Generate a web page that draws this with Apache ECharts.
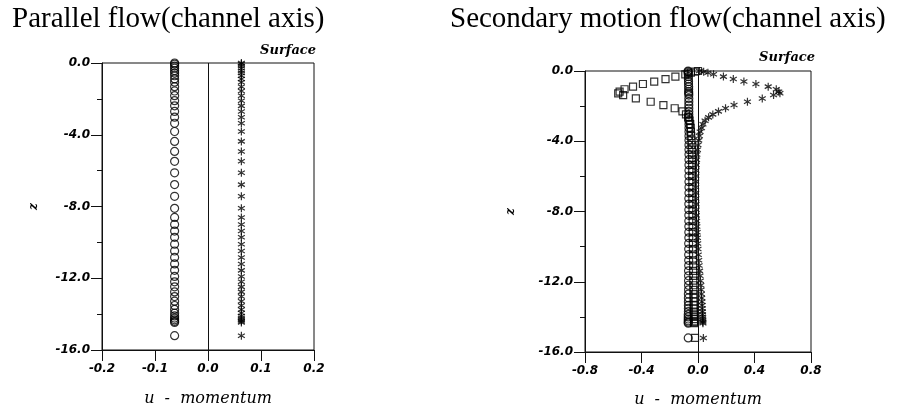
<!DOCTYPE html>
<html>
<head>
<meta charset="utf-8">
<script src="https://cdn.jsdelivr.net/npm/echarts@6/dist/echarts.min.js"></script>
<style>
html, body { margin: 0; padding: 0; background: #fff; }
#chart { width: 898px; height: 408px; }
</style>
</head>
<body>
<div id="chart"></div>
<script>
const titles = ['Parallel flow(channel axis)', 'Secondary motion flow(channel axis)'];
const xName = 'u  -  momentum';
const yName = 'z';
const surfaceLabel = 'Surface';

const xTicksLeft = [-0.2, -0.1, 0.0, 0.1, 0.2];
const xTicksRight = [-0.8, -0.4, 0.0, 0.4, 0.8];
const zTicks = [-16, -12, -8, -4, 0];

// depth levels, left panel
const zLeft = [0, -0.06, -0.17, -0.29, -0.43, -0.56, -0.71, -0.89, -1.07, -1.32,
  -1.56, -1.82, -2.1, -2.39, -2.7, -3.02, -3.36, -3.82, -4.37, -4.93,
  -5.48, -6.12, -6.78, -7.43, -8.1, -8.61, -9.0, -9.37, -9.72, -10.1,
  -10.48, -10.84, -11.2, -11.56, -11.9, -12.2, -12.48, -12.76, -13.02, -13.28,
  -13.52, -13.74, -13.94, -14.1, -14.22, -14.32, -14.4, -14.46, -15.2];
const uCircleLeft = [-0.063, -0.063, -0.063, -0.063, -0.063, -0.063, -0.063, -0.063, -0.063, -0.063,
  -0.063, -0.063, -0.063, -0.063, -0.063, -0.063, -0.063, -0.063, -0.063, -0.063,
  -0.063, -0.063, -0.063, -0.063, -0.063, -0.063, -0.063, -0.063, -0.063, -0.063,
  -0.063, -0.063, -0.063, -0.063, -0.063, -0.063, -0.063, -0.063, -0.063, -0.063,
  -0.063, -0.063, -0.063, -0.063, -0.063, -0.063, -0.063, -0.063, -0.063];
const uStarLeft = [0.063, 0.063, 0.063, 0.063, 0.063, 0.063, 0.063, 0.063, 0.063, 0.063,
  0.063, 0.063, 0.063, 0.063, 0.063, 0.063, 0.063, 0.063, 0.063, 0.063,
  0.063, 0.063, 0.063, 0.063, 0.063, 0.063, 0.063, 0.063, 0.063, 0.063,
  0.063, 0.063, 0.063, 0.063, 0.063, 0.063, 0.063, 0.063, 0.063, 0.063,
  0.063, 0.063, 0.063, 0.063, 0.063, 0.063, 0.063, 0.063, 0.063];

// depth levels, right panel
const zRight = [0, -0.04, -0.1, -0.19, -0.32, -0.46, -0.6, -0.74, -0.89, -1.04,
  -1.18, -1.27, -1.37, -1.56, -1.75, -1.94, -2.12, -2.3, -2.47, -2.64,
  -2.83, -3.03, -3.24, -3.46, -3.7, -3.95, -4.21, -4.48, -4.76, -5.05,
  -5.35, -5.66, -5.98, -6.3, -6.62, -6.94, -7.26, -7.58, -7.9, -8.22,
  -8.54, -8.86, -9.18, -9.5, -9.82, -10.14, -10.46, -10.78, -11.08, -11.38,
  -11.66, -11.94, -12.2, -12.46, -12.7, -12.92, -13.14, -13.34, -13.52, -13.7,
  -13.86, -14.0, -14.12, -14.22, -14.3, -14.36, -15.2];
const uCircleRight = [-0.07, -0.07, -0.069, -0.069, -0.068, -0.068, -0.067, -0.067, -0.066, -0.066,
  -0.066, -0.066, -0.065, -0.065, -0.065, -0.065, -0.065, -0.065, -0.065, -0.065,
  -0.064, -0.064, -0.064, -0.064, -0.064, -0.064, -0.064, -0.064, -0.064, -0.064,
  -0.064, -0.064, -0.064, -0.064, -0.064, -0.064, -0.065, -0.065, -0.065, -0.065,
  -0.065, -0.065, -0.065, -0.065, -0.066, -0.066, -0.066, -0.066, -0.066, -0.067,
  -0.067, -0.067, -0.067, -0.067, -0.068, -0.068, -0.068, -0.068, -0.068, -0.068,
  -0.069, -0.069, -0.069, -0.069, -0.069, -0.069, -0.069];
const uSquareRight = [0.0, -0.02, -0.05, -0.09, -0.16, -0.23, -0.31, -0.39, -0.46, -0.52,
  -0.555, -0.565, -0.53, -0.44, -0.335, -0.245, -0.165, -0.11, -0.085, -0.07,
  -0.06, -0.055, -0.052, -0.05, -0.048, -0.046, -0.045, -0.044, -0.043, -0.042,
  -0.042, -0.041, -0.041, -0.04, -0.04, -0.04, -0.04, -0.039, -0.039, -0.039,
  -0.038, -0.038, -0.037, -0.037, -0.036, -0.036, -0.035, -0.035, -0.034, -0.034,
  -0.033, -0.033, -0.032, -0.032, -0.031, -0.031, -0.03, -0.03, -0.03, -0.029,
  -0.029, -0.028, -0.028, -0.028, -0.027, -0.027, -0.021];
const uStarRight = [0.01, 0.04, 0.07, 0.11, 0.18, 0.25, 0.325, 0.41, 0.497, 0.554,
  0.572, 0.58, 0.535, 0.455, 0.35, 0.255, 0.195, 0.145, 0.105, 0.075,
  0.05, 0.035, 0.025, 0.015, 0.01, 0.005, 0.0, -0.004, -0.008, -0.01,
  -0.012, -0.014, -0.015, -0.016, -0.016, -0.016, -0.015, -0.014, -0.013, -0.012,
  -0.01, -0.008, -0.006, -0.004, -0.002, 0.0, 0.002, 0.005, 0.008, 0.011,
  0.014, 0.017, 0.02, 0.022, 0.024, 0.026, 0.028, 0.029, 0.03, 0.031,
  0.032, 0.033, 0.033, 0.034, 0.034, 0.035, 0.038];

const starPath = 'path://M0,-10L0,10M-8.66,-5L8.66,5M-8.66,5L8.66,-5';
const ink = '#111';
const tickFont = { fontFamily: 'DejaVu Sans', fontWeight: 'bold', fontStyle: 'italic', fontSize: 12, color: '#000' };

const pairs = (xs, zs) => zs.map((z, i) => [xs[i], z]);

function xAxisFor(idx, ticks, nameGap) {
  return {
    gridIndex: idx, type: 'value',
    min: ticks[0], max: ticks[ticks.length - 1], interval: ticks[1] - ticks[0],
    axisLine: { show: true, onZero: false, lineStyle: { color: ink, width: 1 } },
    axisTick: { show: true, length: 11, lineStyle: { color: ink } },
    axisLabel: Object.assign({ margin: 13, formatter: v => v.toFixed(1) }, tickFont),
    splitLine: { show: false },
    name: xName, nameLocation: 'middle', nameGap: nameGap,
    nameTextStyle: { fontFamily: 'DejaVu Serif', fontStyle: 'italic', fontSize: 16, color: '#000' }
  };
}

function yAxisFor(idx, nameGap) {
  return {
    gridIndex: idx, type: 'value',
    min: zTicks[0], max: zTicks[zTicks.length - 1], interval: zTicks[1] - zTicks[0],
    axisLine: { show: true, onZero: false, lineStyle: { color: ink, width: 1 } },
    axisTick: { show: true, length: 11, lineStyle: { color: ink } },
    minorTick: { show: true, splitNumber: 2, length: 5, lineStyle: { color: ink } },
    axisLabel: Object.assign({ margin: 12, formatter: v => v.toFixed(1) }, tickFont),
    splitLine: { show: false },
    name: yName, nameLocation: 'middle', nameGap: nameGap, nameRotate: 90,
    nameTextStyle: { fontFamily: 'DejaVu Serif', fontStyle: 'italic', fontWeight: 'bold', fontSize: 12, color: '#000' }
  };
}

const zeroLine = {
  silent: true, symbol: ['none', 'none'], label: { show: false },
  lineStyle: { color: ink, type: 'solid', width: 1 },
  data: [{ xAxis: 0 }]
};

const markStyle = { color: 'transparent', borderColor: '#000', borderWidth: 1.2 };
const titleFont = { fontFamily: 'Liberation Serif', fontWeight: 'normal', fontSize: 29, color: '#000' };
const surfaceFont = { fontFamily: 'DejaVu Serif', fontStyle: 'italic', fontWeight: 'bold', fontSize: 13, color: '#000' };

const chart = echarts.init(document.getElementById('chart'));

const option = {
  animation: false,
  backgroundColor: '#fff',
  title: [
    { text: titles[0], left: 12, top: 5, padding: 0, textStyle: titleFont },
    { text: titles[1], left: 450, top: 5, padding: 0, textStyle: titleFont },
    { text: surfaceLabel, right: 582, top: 44, padding: 0, textStyle: surfaceFont },
    { text: surfaceLabel, right: 83, top: 51, padding: 0, textStyle: surfaceFont }
  ],
  grid: [
    { left: 102, top: 63, width: 212, height: 287, outerBoundsMode: 'none',
      show: true, borderColor: ink, borderWidth: 1 },
    { left: 585, top: 71, width: 226, height: 281, outerBoundsMode: 'none',
      show: true, borderColor: ink, borderWidth: 1 }
  ],
  xAxis: [xAxisFor(0, xTicksLeft, 41), xAxisFor(1, xTicksRight, 40)],
  yAxis: [yAxisFor(0, 62), yAxisFor(1, 68)],
  series: [
    { type: 'scatter', xAxisIndex: 0, yAxisIndex: 0, symbol: 'circle', symbolSize: 8,
      itemStyle: markStyle, data: pairs(uCircleLeft, zLeft), markLine: zeroLine },
    { type: 'scatter', xAxisIndex: 0, yAxisIndex: 0, symbol: starPath, symbolSize: 8, symbolKeepAspect: true,
      itemStyle: markStyle, data: pairs(uStarLeft, zLeft) },
    { type: 'scatter', xAxisIndex: 1, yAxisIndex: 1, symbol: 'circle', symbolSize: 8,
      itemStyle: markStyle, data: pairs(uCircleRight, zRight), markLine: zeroLine },
    { type: 'scatter', xAxisIndex: 1, yAxisIndex: 1, symbol: 'rect', symbolSize: 7,
      itemStyle: markStyle, data: pairs(uSquareRight, zRight) },
    { type: 'scatter', xAxisIndex: 1, yAxisIndex: 1, symbol: starPath, symbolSize: 8, symbolKeepAspect: true,
      itemStyle: markStyle, data: pairs(uStarRight, zRight) }
  ]
};

chart.setOption(option);
</script>
</body>
</html>
